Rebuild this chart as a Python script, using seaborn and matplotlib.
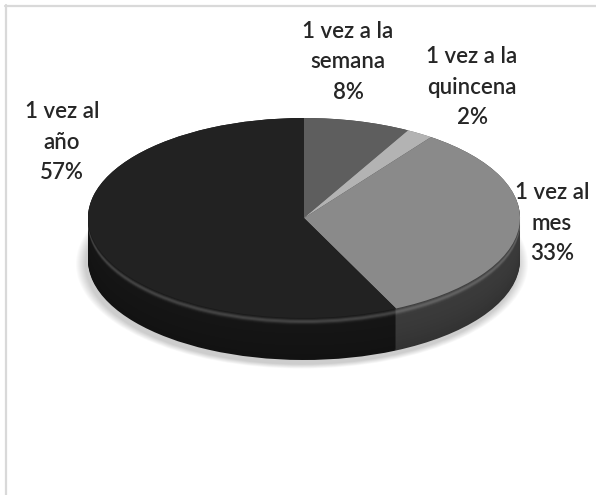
import numpy as np
import matplotlib
matplotlib.use("Agg")
import matplotlib.pyplot as plt
import seaborn as sns
from matplotlib.patches import Ellipse
from matplotlib.lines import Line2D
from matplotlib.colors import to_rgb

# Frequency categories and their shares (%)
categories = ["1 vez a la\nsemana", "1 vez a la\nquincena", "1 vez al\nmes", "1 vez al\naño"]
shares = [8, 2, 33, 57]

# Face colours (top) and wall colours (sides) for each slice
top_colors = ["#5e5e5e", "#b3b3b3", "#8a8a8a", "#222222"]
side_colors = ["#3a3a3a", "#6e6e6e", "#3b3b3b", "#151515"]

sns.set_theme(style="white")
plt.rcParams['font.family'] = ['Lato', 'DejaVu Sans']

W, H = 596, 495
fig = plt.figure(figsize=(W / 100, H / 100), dpi=100)
fig.patch.set_facecolor("white")
ax = fig.add_axes([0, 0, 1, 1])

# Disc geometry (pixels); the disc is squashed vertically to look tilted
cx, cy_top = 304, 218
R = 216
K = 100 / 216
depth = 42


def ydata(yp):
    return (H - yp) / K


def mix(c, target, t):
    c = np.array(to_rgb(c))
    target = np.array(to_rgb(target))
    return tuple(c * (1 - t) + target * t)


# soft drop shadow under the disc
for s in range(10, 0, -1):
    ax.add_patch(Ellipse((cx - 2, ydata(cy_top + depth + 4)), 2 * (R + s), 2 * (R + s),
                         facecolor="#000000", edgecolor="none", alpha=0.018, zorder=0))

# side walls: stacked discs from the bottom up, with a bevel highlight near the top rim
n_layers = depth + 1
for i in range(n_layers):
    d = depth - i
    hl = 0.20 * np.exp(-((d - 4.0) / 2.2) ** 2)
    dark = 0.15 * (d / depth) ** 2
    cols = [mix(mix(c, "white", hl), "black", dark) for c in side_colors]
    ax.pie(shares, colors=cols, startangle=90, counterclock=False, radius=R,
           center=(cx, ydata(cy_top + d)), frame=True,
           wedgeprops=dict(linewidth=0, antialiased=True))

# top face
ax.pie(shares, colors=top_colors, startangle=90, counterclock=False, radius=R,
       center=(cx, ydata(cy_top)), frame=True,
       wedgeprops=dict(linewidth=0, antialiased=True))

ax.set_aspect("auto")
ax.set_xlim(0, W)
ax.set_ylim(0, H / K)
ax.axis("off")

# data labels
label_pos = [(348, 62), (472, 87), (552, 223), (62, 142)]
for cat, val, (lx, ly) in zip(categories, shares, label_pos):
    fig.text(lx / W, 1 - ly / H, f"{cat}\n{val}%", ha="center", va="center",
             fontsize=16, fontweight="semibold", linespacing=1.55, color="#262626")

# chart-area border (top and left edges)
fig.add_artist(Line2D([6 / W, 6 / W], [0, 1 - 5 / H], transform=fig.transFigure,
                      color="#d9d9d9", lw=1.6))
fig.add_artist(Line2D([5 / W, 1], [1 - 6 / H, 1 - 6 / H], transform=fig.transFigure,
                      color="#d9d9d9", lw=1.6))

fig.savefig("out.png", dpi=100, facecolor="white")
